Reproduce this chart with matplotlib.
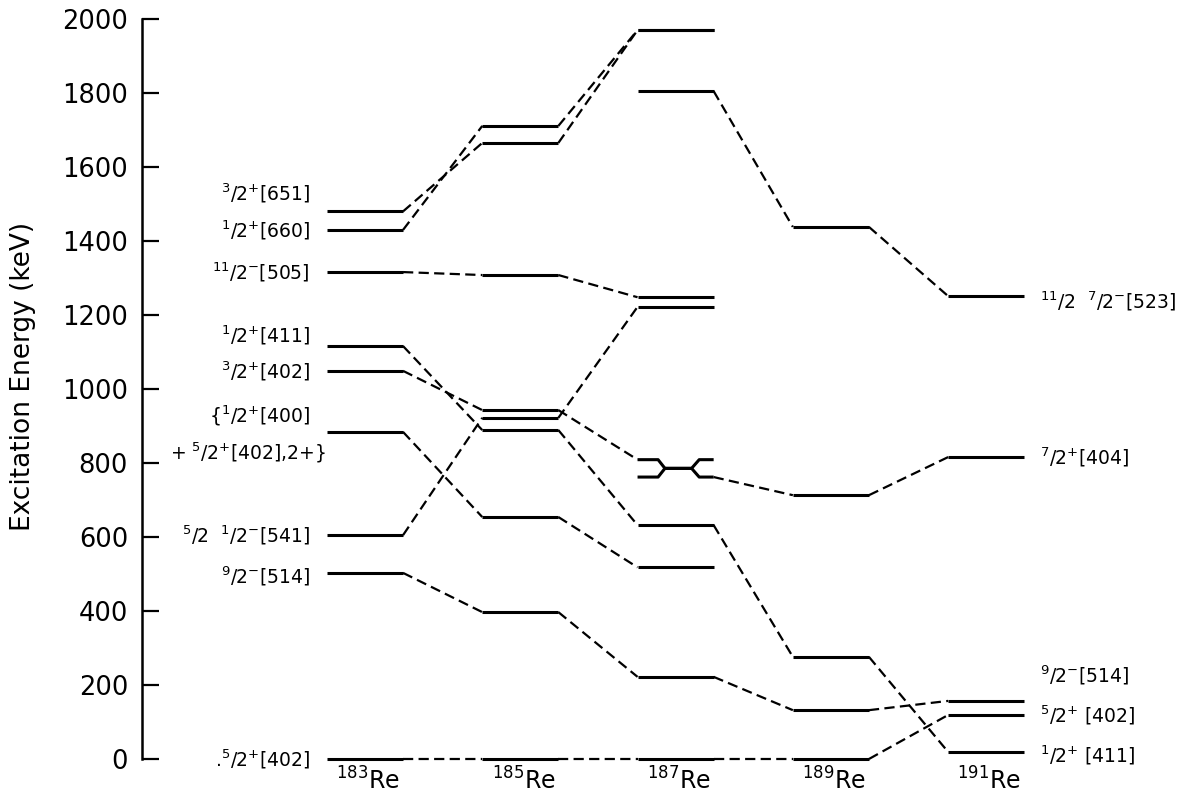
import matplotlib
matplotlib.use("Agg")
import matplotlib.pyplot as plt

# Re isotopes (mass numbers) along the x direction
isotopes = ["183", "185", "187", "189", "191"]

# Level energies in keV for each Nilsson state, None where not observed.
# A tuple marks the two mixed levels in 187Re (entry level, exit level).
e_651 = [1480, 1665, 1970, None, None]
e_660 = [1430, 1711, 1970, None, None]
e_505 = [1316, 1308, 1248, None, None]
e_411 = [1116, 889, 632, 276, 19]
e_402_3 = [1049, 943, (809, 762), 713, 816]
e_400 = [884, 654, 518, None, None]
e_541 = [605, 922, 1222, None, None]
e_514 = [503, 397, 222, 132, 157]
e_402_5 = [0, 0, 0, 0, 119]
e_523 = [None, None, 1805, 1438, 1251]

states = [e_651, e_660, e_505, e_411, e_402_3, e_400, e_541, e_514, e_402_5, e_523]

# labels on the 183Re side
left_labels = [r"$^{3}$/2$^{+}$[651]", r"$^{1}$/2$^{+}$[660]", r"$^{11}$/2$^{-}$[505]",
               r"$^{1}$/2$^{+}$[411]", r"$^{3}$/2$^{+}$[402]", r"$^{5}$/2  $^{1}$/2$^{-}$[541]",
               r"$^{9}$/2$^{-}$[514]", r".$^{5}$/2$^{+}$[402]"]
left_label_e = [e_651[0], e_660[0], e_505[0], e_411[0], e_402_3[0], e_541[0], e_514[0], e_402_5[0]]
left_label_dy = [50, 0, 0, 30, 0, 0, -10, 0]

# labels on the 191Re side
right_labels = [r"$^{11}$/2  $^{7}$/2$^{-}$[523]", r"$^{7}$/2$^{+}$[404]",
                r"$^{9}$/2$^{-}$[514]", r"$^{5}$/2$^{+}$ [402]", r"$^{1}$/2$^{+}$ [411]"]
right_label_e = [e_523[4], e_402_3[4], e_514[4], e_402_5[4], e_411[4]]
right_label_dy = [-15, 0, 70, 0, -8]

yticks = list(range(0, 2001, 200))

HALF = 0.245
solid = dict(color="black", lw=2.2, solid_capstyle="butt", clip_on=False)
dashed = dict(color="black", lw=1.6, dashes=(4.6, 2.4), clip_on=False)

fig = plt.figure(figsize=(11.9, 8.01), dpi=100)
ax = fig.add_axes([142 / 1190, 42 / 801, 1 - 142 / 1190, 740 / 801])
ax.set_xlim((142 - 365) / 155.3, (1190 - 365) / 155.3)
ax.set_ylim(0, 2000)


def draw_crossing(i, e_hi, e_lo):
    # two levels that pinch together in the middle of the bar
    left = i - HALF
    w = 2 * HALF
    mid = (e_hi + e_lo) / 2
    xs = [left, left + 0.27 * w, left + 0.36 * w, left + 0.71 * w, left + 0.81 * w, left + w]
    ax.plot(xs, [e_hi, e_hi, mid, mid, e_lo, e_lo], **solid)
    ax.plot(xs, [e_lo, e_lo, mid, mid, e_hi, e_hi], **solid)


for state in states:
    prev = None
    for i, e in enumerate(state):
        if e is None:
            prev = None
            continue
        if isinstance(e, tuple):
            e_in, e_out = e
            draw_crossing(i, e_in, e_out)
        else:
            e_in = e_out = e
            ax.plot([i - HALF, i + HALF], [e, e], **solid)
        if prev is not None:
            ax.plot([prev[0] + HALF, i - HALF], [prev[1], e_in], **dashed)
        prev = (i, e_out)

for txt, e, dy in zip(left_labels, left_label_e, left_label_dy):
    ax.text(-HALF - 0.11, e + dy, txt, ha="right", va="center", fontsize=13.5)

# the mixed 1/2+[400] + 5/2+[402] x 2+ level
ax.text(-HALF - 0.11, e_400[0] + 45, r"{$^{1}$/2$^{+}$[400]", ha="right", va="center", fontsize=13.5)
ax.text(-HALF - 0.01, e_400[0] - 55, r"+ $^{5}$/2$^{+}$[402],2+}", ha="right", va="center", fontsize=13.5)

for txt, e, dy in zip(right_labels, right_label_e, right_label_dy):
    ax.text(4 + HALF + 0.1, e + dy, txt, ha="left", va="center", fontsize=13.5, clip_on=False)

for i, a in enumerate(isotopes):
    ax.text(i - HALF + 0.06, -22, r"$^{%s}$Re" % a, ha="left", va="top", fontsize=17)

ax.set_yticks(yticks)
ax.set_xticks([])
ax.tick_params(axis="y", direction="in", length=12.5, width=1.6, pad=10, labelsize=18.5)
for side in ["top", "right", "bottom"]:
    ax.spines[side].set_visible(False)
ax.spines["left"].set_linewidth(1.8)

fig.text(23 / 1190, 1 - 376 / 801, "Excitation Energy (keV)", rotation=90,
         ha="center", va="center", fontsize=19)

plt.savefig("out.png", dpi=100)
